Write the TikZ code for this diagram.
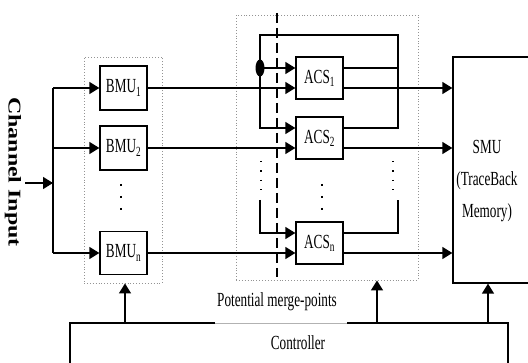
\documentclass[tikz,border=0pt]{standalone}
\usepackage{graphicx}
\usepackage{fontspec}
\setmainfont{Liberation Serif}
\usetikzlibrary{arrows.meta,calc}
\newcommand{\sq}[1]{\scalebox{0.66}[1]{#1}}
\begin{document}
\begin{tikzpicture}[x=1pt,y=-1pt,
  every node/.style={font=\fontsize{20}{32}\selectfont, inner sep=0pt},
  blk/.style={draw, line width=1.3pt, fill=white},
  wire/.style={line width=1.5pt},
  arr/.style={wire, -{Triangle[length=10pt,width=12pt]}},
  grp/.style={draw=gray!85, dotted, line width=0.9pt},
  fewdots/.style={line width=2pt, dash pattern=on 2.5pt off 9.5pt},
  loopdots/.style={line width=1.2pt, dash pattern=on 1.5pt off 8pt},
]
\useasboundingbox (0,0) rectangle (528,363);

% dotted groups
\node[grp, minimum width=78pt, minimum height=226pt] (bmug) at (123,170) {};
\node[grp, minimum width=182pt, minimum height=265pt] (acsg) at (327,147.5) {};

% blocks
\node[blk, minimum width=47pt, minimum height=44pt] (bmu1) at (123.5,88) {\sq{BMU\textsubscript{1}}};
\node[blk, minimum width=47pt, minimum height=44pt] (bmu2) at (123.5,148) {\sq{BMU\textsubscript{2}}};
\node[blk, minimum width=47pt, minimum height=43pt] (bmun) at (123.5,253) {\sq{BMU\textsubscript{n}}};
\node[blk, minimum width=47pt, minimum height=42pt] (acs1) at (319.5,78) {\sq{ACS\textsubscript{1}}};
\node[blk, minimum width=47pt, minimum height=42pt] (acs2) at (319.5,138) {\sq{ACS\textsubscript{2}}};
\node[blk, minimum width=47pt, minimum height=42pt] (acsn) at (319.5,243) {\sq{ACS\textsubscript{n}}};
\node[blk, minimum width=82pt, minimum height=226pt] (smu) at (494,170) {};
\node[align=center] (smutext) at (487,181) {\sq{SMU}\\\sq{(TraceBack}\\\sq{Memory)}};
\node[blk, minimum width=438pt, minimum height=47pt] (ctrl) at (289,346.5) {};
\node (ctrltext) at (298,343) {\sq{Controller}};
\draw[white, line width=1.6pt] (215,323) -- (347,323);
\draw[gray!60, line width=0.6pt] (215,323) -- (347,323);
\node (pmp) at (277,302) {\sq{Potential merge-points}};
\node[rotate=-90] (chin) at (13,172) {\scalebox{1.33}[1]{\fontsize{18}{20}\selectfont\bfseries Channel Input}};

% channel input bus
\coordinate (inp) at (25,183);
\coordinate (bustop) at (53,88);
\coordinate (busbot) at (53,253);
\draw[wire] (bustop) -- (busbot);
\draw[arr] (inp) -- (inp -| bustop);
\draw[arr] (bustop) -- (bmu1.west);
\draw[arr] (bustop |- bmu2.west) -- (bmu2.west);
\draw[arr] (busbot) -- (bmun.west);

% ACS input/output points
\coordinate (i1u) at ($(acs1.west)+(0,-10)$);
\coordinate (i1d) at ($(acs1.west)+(0,10)$);
\coordinate (o1u) at ($(acs1.east)+(0,-10)$);
\coordinate (o1d) at ($(acs1.east)+(0,10)$);
\coordinate (i2u) at ($(acs2.west)+(0,-10)$);
\coordinate (i2d) at ($(acs2.west)+(0,10)$);
\coordinate (o2u) at ($(acs2.east)+(0,-10)$);
\coordinate (o2d) at ($(acs2.east)+(0,10)$);
\coordinate (inu) at ($(acsn.west)+(0,-10)$);
\coordinate (ind) at ($(acsn.west)+(0,10)$);
\coordinate (onu) at ($(acsn.east)+(0,-10)$);
\coordinate (ond) at ($(acsn.east)+(0,10)$);

% BMU -> ACS
\draw[arr] (bmu1.east) -- (i1d);
\draw[arr] (bmu2.east) -- (i2d);
\draw[arr] (bmun.east) -- (ind);

% ACS -> SMU
\draw[arr] (o1d) -- (o1d -| smu.west);
\draw[arr] (o2d) -- (o2d -| smu.west);
\draw[arr] (ond) -- (ond -| smu.west);

% feedback loops
\coordinate (fbl) at (260,35);
\coordinate (fbr) at (398,35);
\draw[arr] (o2u) -| (fbr) -- (fbl) |- (i2u);
\draw[wire] (o1u) -- (o1u -| fbr);
\draw[arr] (i1u -| fbl) -- (i1u);
\fill (i1u -| fbl) ellipse [x radius=4.5pt, y radius=8.5pt];
\coordinate (nl) at (260,200);
\coordinate (nr) at (398,200);
\draw[arr] (nl) |- (inu);
\draw[wire] (onu) -| (nr);

% dots
\draw[fewdots] (121,184) -- (121,210);
\draw[fewdots] (322,184) -- (322,210);
\draw[loopdots] (261,161) -- (261,190);
\draw[loopdots] (393,161) -- (393,190);

% merge-point line
\draw[line width=1.8pt, dash pattern=on 10pt off 5pt] (277,13) -- (277,277);

% controller arrows
\coordinate (c1) at (125,323);
\coordinate (c2) at (377,323);
\coordinate (c3) at (488,323);
\draw[arr] (c1) -- (c1 |- bmug.south);
\draw[arr] (c2) -- (c2 |- acsg.south);
\draw[arr] (c3) -- (c3 |- smu.south);
\end{tikzpicture}
\end{document}
